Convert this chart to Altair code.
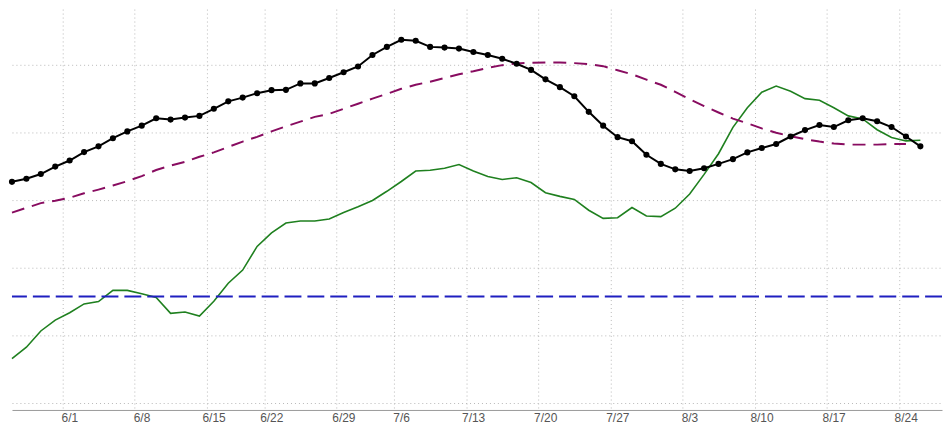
import altair as alt
import pandas as pd

# Trading-day index 0..63 (5/26 .. 8/25); labels sit on Mondays
dates = ["5/26", "5/27", "5/28", "5/29",
         "6/1", "6/2", "6/3", "6/4", "6/5",
         "6/8", "6/9", "6/10", "6/11", "6/12",
         "6/15", "6/16", "6/17", "6/18",
         "6/22", "6/23", "6/24", "6/25", "6/26",
         "6/29", "6/30", "7/1", "7/2",
         "7/6", "7/7", "7/8", "7/9", "7/10",
         "7/13", "7/14", "7/15", "7/16", "7/17",
         "7/20", "7/21", "7/22", "7/23", "7/24",
         "7/27", "7/28", "7/29", "7/30", "7/31",
         "8/3", "8/4", "8/5", "8/6", "8/7",
         "8/10", "8/11", "8/12", "8/13", "8/14",
         "8/17", "8/18", "8/19", "8/20", "8/21",
         "8/24", "8/25"]

week_labels = ["6/1", "6/8", "6/15", "6/22", "6/29", "7/6", "7/13",
               "7/20", "7/27", "8/3", "8/10", "8/17", "8/24"]

price = [65.4, 66.3, 67.7, 69.9, 71.7, 74.2, 75.9, 78.3, 80.3, 82.0,
         84.2, 83.8, 84.4, 84.9, 87.0, 89.2, 90.3, 91.6, 92.5, 92.6,
         94.5, 94.5, 96.1, 97.8, 99.5, 102.9, 105.3, 107.4, 107.1, 105.3,
         105.1, 104.8, 103.8, 102.9, 101.8, 100.3, 98.5, 95.7, 93.4, 90.7,
         86.1, 82.0, 78.6, 77.4, 73.4, 70.7, 69.1, 68.6, 69.4, 70.7,
         72.1, 74.1, 75.4, 76.6, 78.8, 80.7, 82.2, 81.6, 83.6, 84.2,
         83.3, 81.6, 78.8, 75.9]

moving_avg = [56.3, 57.7, 59.1, 59.8, 60.7, 62.0, 63.1, 64.3, 65.6, 67.1,
              68.9, 70.2, 71.3, 72.8, 74.1, 75.7, 77.3, 78.7, 80.3, 81.8,
              83.2, 84.6, 85.5, 87.0, 88.5, 90.0, 91.4, 92.9, 94.1, 95.0,
              96.1, 97.2, 98.1, 99.1, 99.9, 100.4, 100.6, 100.7, 100.7, 100.5,
              100.2, 99.6, 98.4, 97.2, 95.6, 94.1, 92.0, 89.8, 87.8, 85.9,
              84.1, 82.7, 81.2, 79.9, 78.9, 78.0, 77.3, 76.7, 76.4, 76.4,
              76.4, 76.6, 76.6]

indicator = [13.1, 16.5, 21.3, 24.5, 26.7, 29.3, 30.0, 33.3, 33.3, 32.3,
             31.2, 26.5, 26.9, 25.7, 30.1, 35.4, 39.3, 46.3, 50.3, 53.2,
             53.8, 53.8, 54.4, 56.3, 58.0, 59.9, 62.6, 65.5, 68.6, 68.8,
             69.4, 70.5, 68.6, 67.0, 66.1, 66.6, 65.2, 62.2, 61.1, 60.2,
             57.0, 54.6, 54.8, 57.8, 55.3, 55.1, 57.6, 61.8, 67.6, 73.7,
             81.5, 87.3, 91.9, 93.7, 92.2, 90.0, 89.5, 87.3, 84.9, 84.0,
             80.8, 78.5, 77.5, 77.7]

level = 31.5

monday_idx = [dates.index(d) for d in week_labels]
grid_pos = [i - 0.5 for i in monday_idx]
label_js = "{" + ",".join(f"'{g}':'{w}'" for g, w in zip(grid_pos, week_labels)) + "}"

df_price = pd.DataFrame({"idx": list(range(len(price))), "date": dates[:len(price)], "v": price})
df_ma = pd.DataFrame({"idx": list(range(len(moving_avg))), "v": moving_avg})
df_ind = pd.DataFrame({"idx": list(range(len(indicator))), "v": indicator})
df_level = pd.DataFrame({"v": [level]})

x_scale = alt.Scale(domain=[0, 64.5], nice=False, zero=False)
y_scale = alt.Scale(domain=[-2.0588, 116.47], nice=False, zero=False)

x_axis = alt.Axis(values=grid_pos, labelExpr=label_js + "[''+datum.value]",
                  labelOffset=7, grid=True, gridDash=[1, 3], gridColor="#b8b8b8",
                  ticks=False, title=None, labelColor="#555555", labelFont="Liberation Sans",
                  labelFontSize=12, labelPadding=3, domainColor="#999999", labelFlush=False)
y_axis = alt.Axis(values=list(range(0, 111, 10)), grid=True, gridDash=[1, 3],
                  gridColor="#b8b8b8", labels=False, ticks=False, domain=False, title=None)

base_x = alt.X("idx:Q", scale=x_scale, axis=x_axis)

green = alt.Chart(df_ind).mark_line(color="#1f801f", strokeWidth=1.6).encode(
    x=base_x, y=alt.Y("v:Q", scale=y_scale, axis=y_axis))

magenta = alt.Chart(df_ma).mark_line(color="#880c60", strokeWidth=2, strokeDash=[13, 8]).encode(
    x=alt.X("idx:Q", scale=x_scale), y=alt.Y("v:Q", scale=y_scale))

blue = alt.Chart(df_level).mark_rule(color="#1f1fc0", strokeWidth=2, strokeDash=[17, 6]).encode(
    y=alt.Y("v:Q", scale=y_scale))

black_line = alt.Chart(df_price).mark_line(color="#000000", strokeWidth=2).encode(
    x=alt.X("idx:Q", scale=x_scale), y=alt.Y("v:Q", scale=y_scale))
black_pts = alt.Chart(df_price).mark_circle(color="#000000", size=38, opacity=1).encode(
    x=alt.X("idx:Q", scale=x_scale), y=alt.Y("v:Q", scale=y_scale))

chart = alt.layer(green, magenta, blue, black_line, black_pts).properties(
    width=935, height=403, padding=0, background="white"
).configure_view(stroke=None)

chart.save("out.html", embed_options={"renderer": "svg", "actions": False})
